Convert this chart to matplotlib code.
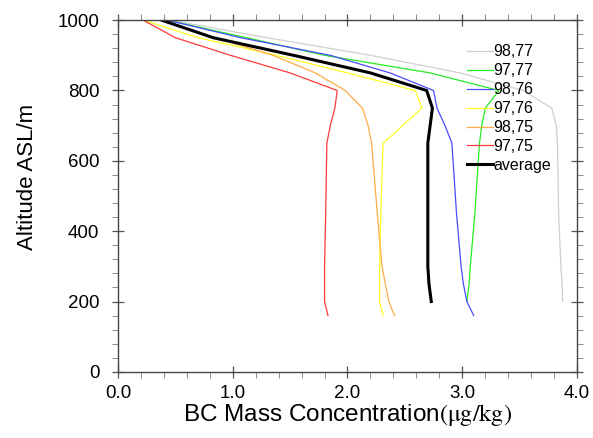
import matplotlib.pyplot as plt
import numpy as np
from matplotlib.ticker import MultipleLocator, FormatStrFormatter

plt.rcParams['font.family'] = ['Liberation Sans', 'DejaVu Sans']
plt.rcParams['mathtext.fontset'] = 'stix'

altitude = [1000, 950, 900, 850, 800, 750, 700, 650, 450, 300, 250, 200, 160]
nan = np.nan
bc_9877 = [0.45, 1.30, 2.20, 2.98, 3.53, 3.78, 3.82, 3.83, 3.84, 3.86, 3.87, 3.875, nan]
bc_9777 = [0.43, 1.12, 1.80, 2.72, 3.32, 3.20, 3.17, 3.15, 3.11, 3.07, 3.06, 3.04, nan]
bc_9876 = [0.43, 1.07, 1.85, 2.37, 2.75, 2.78, 2.85, 2.91, 2.95, 2.99, 3.01, 3.04, 3.10]
bc_9776 = [0.22, 0.70, 1.38, 2.00, 2.59, 2.65, 2.48, 2.31, 2.29, 2.28, 2.28, 2.28, 2.31]
bc_9875 = [0.38, 0.85, 1.35, 1.72, 1.98, 2.13, 2.18, 2.21, 2.26, 2.30, 2.33, 2.36, 2.41]
bc_9775 = [0.22, 0.50, 0.98, 1.50, 1.91, 1.89, 1.85, 1.82, 1.81, 1.80, 1.80, 1.80, 1.83]
bc_avg = [0.38, 0.83, 1.53, 2.20, 2.69, 2.74, 2.72, 2.70, 2.70, 2.70, 2.71, 2.73, nan]

series = [
    (bc_9877, '98,77', '#cfcfcf', 0.9),
    (bc_9777, '97,77', '#22ee22', 0.9),
    (bc_9876, '98,76', '#4a4aff', 0.9),
    (bc_9776, '97,76', '#ffff22', 0.9),
    (bc_9875, '98,75', '#ffaa44', 0.9),
    (bc_9775, '97,75', '#ff3a3a', 0.9),
    (bc_avg, 'average', 'black', 2.2),
]

fig = plt.figure(figsize=(5.93, 4.38), dpi=100)
ax = fig.add_axes([0.199, 0.151, 0.774, 0.803])

for vals, lab, col, lw in series:
    ax.plot(vals, altitude, color=col, lw=lw, label=lab)

ax.set_xlim(0, 4)
ax.set_ylim(0, 1000)
ax.xaxis.set_major_locator(MultipleLocator(1))
ax.xaxis.set_minor_locator(MultipleLocator(0.2))
ax.yaxis.set_major_locator(MultipleLocator(200))
ax.yaxis.set_minor_locator(MultipleLocator(40))
ax.xaxis.set_major_formatter(FormatStrFormatter('%.1f'))

for s in ax.spines.values():
    s.set_color('#444444')
    s.set_linewidth(1.0)
ax.tick_params(which='major', direction='inout', length=9, width=0.9, color='#555555',
               top=True, right=True, labelsize=13.5)
ax.tick_params(axis='x', which='major', pad=5)
ax.tick_params(axis='y', which='major', pad=9)
ax.tick_params(which='minor', direction='out', length=4, width=0.6, color='#777777',
               top=True, right=True)

ax.set_xlabel(r'BC Mass Concentration$\mathrm{(\mu g/kg)}$', fontsize=17.5, labelpad=0)
ax.set_ylabel('Altitude ASL/m', fontsize=16)
ax.yaxis.set_label_coords(-0.175, 0.554)

ax.legend(loc='upper right', bbox_to_anchor=(0.958, 0.95), frameon=False, fontsize=11.5,
          handlelength=1.6, handletextpad=0.05, labelspacing=0.25, borderaxespad=0)

fig.savefig('out.png')
